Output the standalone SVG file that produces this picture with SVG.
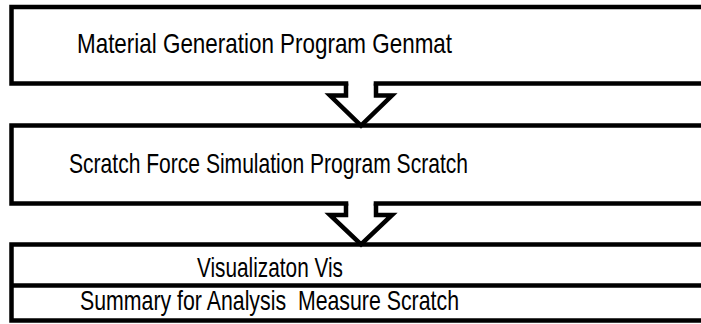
<svg xmlns="http://www.w3.org/2000/svg" width="701" height="324" viewBox="0 0 701 324">
<style>
.box{fill:#fff;stroke:#000;stroke-width:4.5;stroke-linejoin:miter}
.line{fill:none;stroke:#000;stroke-width:4.5}
.lbl{font-family:"Liberation Sans",Arial,sans-serif;font-size:28px;fill:#000;text-anchor:middle;white-space:pre}
.gap{fill:#fff;stroke:none}
.arr{fill:none;stroke:#000;stroke-width:4.5;stroke-linejoin:miter;stroke-miterlimit:10}
</style>
<g id="n1">
<rect class="box" x="11.5" y="7" width="720" height="76.5"/>
<text class="lbl" x="264.5" y="53" textLength="375" lengthAdjust="spacingAndGlyphs">Material Generation Program Genmat</text>
</g>
<g id="n2">
<rect class="box" x="11.5" y="125.5" width="720" height="78"/>
<text class="lbl" x="268.5" y="173" textLength="399" lengthAdjust="spacingAndGlyphs">Scratch Force Simulation Program Scratch</text>
</g>
<g id="n3">
<rect class="box" x="11.5" y="244.5" width="720" height="76"/>
<line class="line" x1="11.5" y1="285.5" x2="720" y2="285.5"/>
<text class="lbl" x="270" y="276.5" textLength="146" lengthAdjust="spacingAndGlyphs">Visualizaton Vis</text>
<text class="lbl" x="269.5" y="310" textLength="379" lengthAdjust="spacingAndGlyphs">Summary for Analysis  Measure Scratch</text>
</g>
<g id="connectors">
<path class="gap" d="M348.3,80 L348.3,97 L335,97 L361,123 L387,97 L373.7,97 L373.7,80 Z"/>
<path class="arr" d="M346,83.5 L346,95.5 L330,95.5 L361,125.5 L392,95.5 L376,95.5 L376,83.5"/>
<path class="gap" d="M348.3,200 L348.3,217 L335,217 L361,242 L387,217 L373.7,217 L373.7,200 Z"/>
<path class="arr" d="M346,203.5 L346,215 L330,215 L361,244.5 L392,215 L376,215 L376,203.5"/>
</g>
</svg>
